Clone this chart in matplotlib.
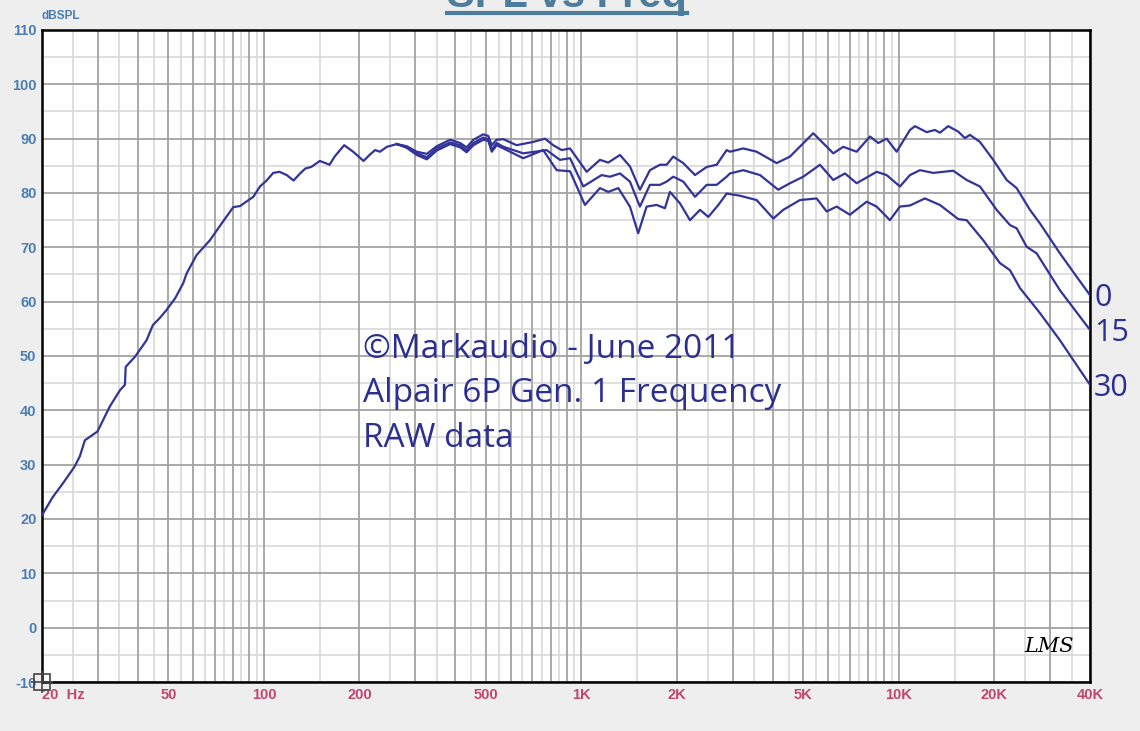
import numpy as np
import matplotlib
matplotlib.use("Agg")
import matplotlib.pyplot as plt
from matplotlib.ticker import FixedLocator, NullFormatter

# common part of the response (all three angles overlap below ~280 Hz)
freq_low = [20, 21.6, 23.3, 25.3, 26.3, 27.3, 29.9, 32.7, 35.2, 36.5, 36.7, 39.3,
            42.7, 44.7, 47, 49.4, 52.5, 55.7, 57.1, 61.4, 67.6, 73.6, 80.1, 84.1,
            92.6, 97.2, 102, 107, 112, 118, 124, 130, 135, 141, 150, 161, 167,
            179, 191, 206, 216, 224, 232, 244, 262]
db_low = [20.7, 24.0, 26.6, 29.6, 31.5, 34.5, 36.1, 40.7, 43.7, 44.7, 48.0, 49.9,
          52.9, 55.7, 57.0, 58.5, 60.6, 63.4, 65.2, 68.6, 71.3, 74.4, 77.4, 77.6,
          79.3, 81.2, 82.3, 83.7, 83.9, 83.3, 82.3, 83.6, 84.5, 84.8, 85.9, 85.2, 86.7,
          88.8, 87.6, 85.9, 87.1, 87.9, 87.6, 88.5, 89.0]

# 0 degrees
freq_0 = [282, 303, 326, 350, 386, 415, 435, 457, 491, 509, 522, 541, 568, 625, 705,
          768, 815, 867, 921, 1039, 1144, 1215, 1323, 1422, 1529, 1644, 1768, 1856,
          1947, 2094, 2280, 2482, 2668, 2868, 2938, 3235, 3565, 4122, 4539, 5375,
          6214, 6681, 7362, 8108, 8610, 9150, 9840, 10838, 11238, 12232, 12990,
          13466, 14304, 15382, 16146, 16744, 18006, 19826, 21852, 23500, 25876,
          27824, 32160, 36300, 40000]
db_0 = [88.6, 87.6, 87.2, 88.6, 89.8, 89.2, 88.4, 89.8, 90.8, 90.5, 88.8, 89.8, 89.9,
        88.8, 89.4, 90.0, 88.8, 87.9, 88.2, 83.9, 86.1, 85.6, 87.0, 84.9, 80.6, 84.2,
        85.2, 85.2, 86.7, 85.5, 83.3, 84.8, 85.2, 87.9, 87.6, 88.2, 87.6, 85.5, 86.7,
        91.0, 87.3, 88.5, 87.6, 90.4, 89.2, 90.0, 87.6, 91.6, 92.3, 91.2, 91.6, 91.1,
        92.3, 91.3, 90.1, 90.7, 89.4, 86.1, 82.4, 80.9, 76.9, 74.4, 68.9, 64.6, 61.2]

# 15 degrees
freq_15 = [282, 303, 326, 350, 386, 415, 435, 457, 491, 509, 522, 541, 568, 656, 777,
           856, 921, 1014, 1158, 1230, 1323, 1422, 1529, 1644, 1768, 1856, 1947, 2094,
           2280, 2482, 2668, 2868, 2938, 3235, 3653, 4169, 4539, 5000, 5642, 6214,
           6764, 7362, 8511, 9150, 10078, 10838, 11654, 12830, 13793, 14834, 16346,
           18006, 20320, 22385, 23500, 25270, 27160, 32160, 40000]
db_15 = [88.5, 87.3, 86.6, 88.2, 89.3, 88.8, 87.9, 89.2, 90.2, 89.9, 88.0, 89.2, 88.5,
         87.3, 87.9, 86.1, 86.4, 81.2, 83.3, 83.0, 83.6, 82.1, 77.5, 81.5, 81.5, 82.1,
         83.0, 82.1, 79.3, 81.5, 81.5, 83.0, 83.6, 84.2, 83.3, 80.6, 81.8, 83.0, 85.2,
         82.4, 83.6, 81.8, 83.9, 83.3, 81.2, 83.3, 84.2, 83.7, 83.9, 84.1, 82.4, 81.2,
         76.9, 74.1, 73.5, 70.1, 68.9, 62.1, 54.8]

# 30 degrees
freq_30 = [282, 303, 326, 350, 386, 415, 435, 457, 491, 509, 522, 541, 568, 656, 758,
           836, 921, 1026, 1144, 1215, 1307, 1422, 1510, 1605, 1726, 1833, 1901, 2044,
           2198, 2364, 2511, 2700, 2868, 3158, 3565, 4022, 4324, 4880, 5508, 5922,
           6368, 7013, 7918, 8511, 9372, 10078, 10838, 12081, 13466, 15382, 16346,
           18442, 20813, 22385, 24070, 27824, 32160, 40000]
db_30 = [88.3, 87.0, 86.2, 87.8, 89.0, 88.4, 87.5, 88.8, 89.8, 89.6, 87.6, 88.8, 88.2,
         86.4, 87.9, 84.2, 84.0, 77.8, 80.9, 80.2, 80.9, 77.5, 72.6, 77.5, 77.8, 77.2,
         80.2, 78.1, 75.0, 76.9, 75.6, 77.8, 79.9, 79.5, 78.7, 75.3, 76.9, 78.7, 79.0,
         76.6, 77.5, 76.0, 78.4, 77.5, 75.0, 77.5, 77.7, 79.0, 77.8, 75.2, 75.0, 71.3,
         67.1, 65.8, 62.5, 57.9, 52.9, 44.7]

angle_labels = ["0", "15", "30"]
x_ticks = [20, 50, 100, 200, 500, 1000, 2000, 5000, 10000, 20000, 40000]
x_ticklabels = ["20  Hz", "50", "100", "200", "500", "1K", "2K", "5K", "10K", "20K", "40K"]
y_ticks = list(range(-10, 111, 10))

line_col = "#32349a"
text_col = "#2b2f8f"

fig = plt.figure(figsize=(11.4, 7.31), dpi=100)
fig.patch.set_facecolor("#eeeeee")
ax = fig.add_axes([42 / 1140, 1 - 682 / 731, 1048 / 1140, 652 / 731])
ax.set_facecolor("white")
ax.set_xscale("log")
ax.set_xlim(20, 40000)
ax.set_ylim(-10, 110)

# grid: dark at 1..9 x decade and every 10 dB, light at the halves
major_x = [k * 10 ** n for n in range(1, 5) for k in range(1, 10) if 20 <= k * 10 ** n <= 40000]
minor_x = [(k + 0.5) * 10 ** n for n in range(1, 5) for k in range(1, 10) if 20 < (k + 0.5) * 10 ** n < 40000]
for xv in minor_x:
    ax.axvline(xv, color="#d9d9d9", lw=1.2, zorder=0)
for yv in range(-5, 110, 10):
    ax.axhline(yv, color="#d9d9d9", lw=1.2, zorder=0)
for xv in major_x:
    ax.axvline(xv, color="#a3a3a3", lw=1.3, zorder=1)
for yv in y_ticks:
    ax.axhline(yv, color="#a3a3a3", lw=1.3, zorder=1)

ax.plot(freq_low, db_low, color=line_col, lw=1.6, zorder=3)
curves = [(freq_0, db_0), (freq_15, db_15), (freq_30, db_30)]
for (f, d), lab in zip(curves, angle_labels):
    ax.plot([freq_low[-1]] + f, [db_low[-1]] + d, color=line_col, lw=1.6, zorder=3)
    ax.annotate(lab, xy=(f[-1], d[-1]), xytext=(3, -2), textcoords="offset points",
                ha="left", va="center", fontsize=22, color=text_col,
                family="Open Sans", annotation_clip=False)

ax.xaxis.set_major_locator(FixedLocator(x_ticks))
ax.xaxis.set_minor_formatter(NullFormatter())
ax.xaxis.set_minor_locator(FixedLocator([]))
ax.set_xticklabels(x_ticklabels)
ax.set_yticks(y_ticks)
ax.set_yticklabels([str(v) for v in y_ticks])
ax.tick_params(length=0, pad=4)
for t in ax.get_xticklabels():
    t.set_color("#c2456f")
    t.set_fontweight("bold")
    t.set_family("Liberation Sans")
    t.set_fontsize(10.5)
for t in ax.get_yticklabels():
    t.set_color("#4b7db3")
    t.set_fontweight("bold")
    t.set_family("Liberation Sans")
    t.set_fontsize(10.5)
ax.get_xticklabels()[0].set_horizontalalignment("left")

for s in ax.spines.values():
    s.set_color("black")
    s.set_linewidth(1.8)

fig.text(42 / 1140, 1 - 16 / 731, "dBSPL", color="#4b7db3", fontsize=8.5,
         fontweight="bold", family="Liberation Sans", va="center")

# cut-off title at the top
fig.text(567 / 1140, 1 - 7 / 731, "SPL vs Freq", color="#4d7d9c", fontsize=30,
         fontweight="bold", family="Liberation Sans", ha="center", va="baseline")
fig.add_artist(plt.Line2D([447 / 1140, 687 / 1140], [1 - 13 / 731, 1 - 13 / 731],
                          color="#4d7d9c", lw=3))

ax.text(0.306, 0.535, "©Markaudio - June 2011\nAlpair 6P Gen. 1 Frequency\nRAW data",
        transform=ax.transAxes, color=text_col, fontsize=24, family="Open Sans",
        va="top", ha="left", linespacing=1.45)

ax.text(0.985, 0.04, "LMS", transform=ax.transAxes, fontsize=15, style="italic",
        family="DejaVu Serif", ha="right", va="bottom", color="black")

ax.plot([20], [-10], marker="s", ms=11, mfc="none", mec="#444444", mew=1.2,
        clip_on=False, zorder=5)
ax.plot([20], [-10], marker="+", ms=16, color="#444444", mew=1.2,
        clip_on=False, zorder=5)

fig.savefig("out.png", dpi=100, facecolor=fig.get_facecolor())
